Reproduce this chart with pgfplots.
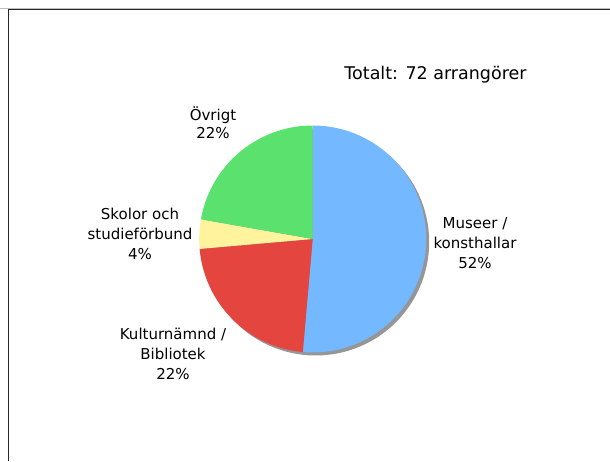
\documentclass[border=0pt]{standalone}
\usepackage{pgfplots}
\pgfplotsset{compat=1.18}
\usepackage{fontspec}
\setmainfont{DejaVu Sans}
\definecolor{cBlue}{RGB}{116,185,255}
\definecolor{cRed}{RGB}{229,69,63}
\definecolor{cYellow}{RGB}{255,243,157}
\definecolor{cGreen}{RGB}{91,225,110}
\definecolor{cShadow}{RGB}{150,150,150}
% counts (Totalt: 72)
\def\nMus{37}\def\nKul{16}\def\nSko{3}\def\nOvr{16}
\def\cx{312.7}\def\cy{222}\def\rr{113.5}
\begin{document}
\begin{tikzpicture}
\begin{axis}[
  width=610bp, height=461bp, scale only axis,
  xmin=0, xmax=610, ymin=0, ymax=461,
  hide axis, clip=true,
]
% frame
\draw[black!25, line width=1bp] (axis cs:0,452.7) -- (axis cs:610,452.7);
\draw[black!85, line width=1.4bp] (axis cs:8.3,0) |- (axis cs:610,451.3);
% shadow
\addplot[fill=cShadow, draw=none, domain=0:360, samples=120]
  ({\cx+3+\rr*cos(x)},{\cy-3+\rr*sin(x)}) -- cycle;
% wedges (clockwise from top)
\addplot[fill=cBlue, draw=none, domain={90-360*\nMus/72}:90, samples=100]
  ({\cx+\rr*cos(x)},{\cy+\rr*sin(x)}) -- (axis cs:\cx,\cy) -- cycle;
\addplot[fill=cRed, draw=none, domain={90-360*(\nMus+\nKul)/72}:{90-360*\nMus/72}, samples=60]
  ({\cx+\rr*cos(x)},{\cy+\rr*sin(x)}) -- (axis cs:\cx,\cy) -- cycle;
\addplot[fill=cYellow, draw=none, domain={90-360*(\nMus+\nKul+\nSko)/72}:{90-360*(\nMus+\nKul)/72}, samples=20]
  ({\cx+\rr*cos(x)},{\cy+\rr*sin(x)}) -- (axis cs:\cx,\cy) -- cycle;
\addplot[fill=cGreen, draw=none, domain={90-360*(\nMus+\nKul+\nSko+\nOvr)/72}:{90-360*(\nMus+\nKul+\nSko)/72}, samples=60]
  ({\cx+\rr*cos(x)},{\cy+\rr*sin(x)}) -- (axis cs:\cx,\cy) -- cycle;
% labels
\node[font=\fontsize{17.5bp}{20bp}\selectfont, align=center] at (axis cs:435.5,386) {Totalt: 72 arrangörer};
\node[font=\fontsize{15bp}{18bp}\selectfont, align=center] at (axis cs:213,338) {Övrigt\\22\%};
\node[font=\fontsize{15bp}{20bp}\selectfont, align=center] at (axis cs:140,227) {Skolor och\\studieförbund\\4\%};
\node[font=\fontsize{15bp}{20bp}\selectfont, align=center] at (axis cs:173,107) {Kulturnämnd /\\Bibliotek\\22\%};
\node[font=\fontsize{15bp}{20bp}\selectfont, align=center] at (axis cs:475,218) {Museer /\\konsthallar\\52\%};
\end{axis}
\pgfresetboundingbox
\path (current axis.south west) rectangle (current axis.north east);
\end{tikzpicture}
\end{document}
